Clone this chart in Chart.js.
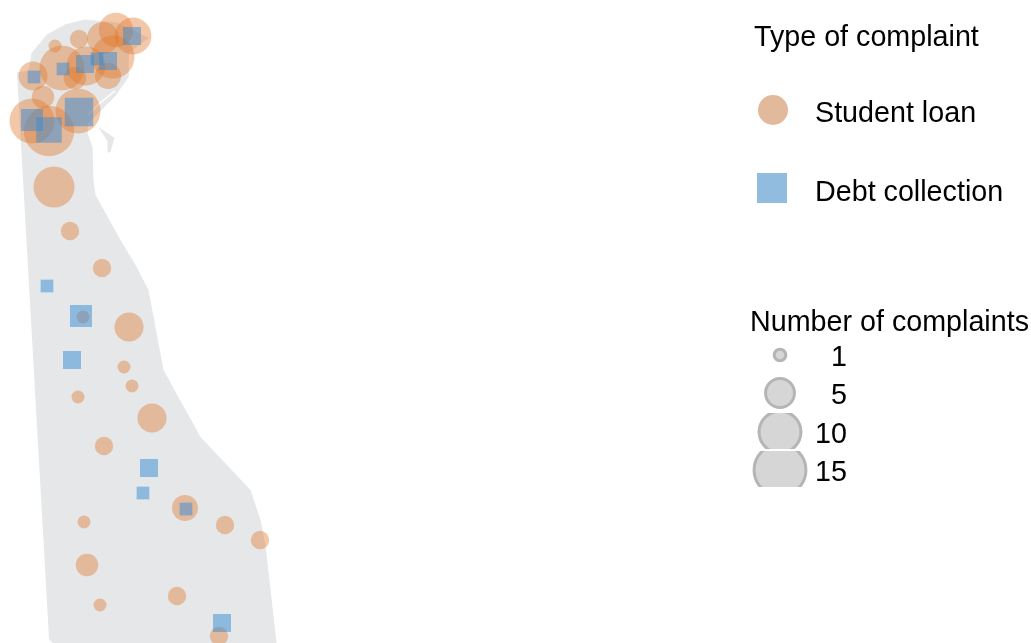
<!DOCTYPE html>
<html>
<head>
<meta charset="utf-8">
<script src="https://cdn.jsdelivr.net/npm/chart.js@4/dist/chart.umd.min.js"></script>
<style>
  html, body { margin: 0; padding: 0; background: #fff; }
  #wrap { width: 1031px; height: 643px; }
</style>
</head>
<body>
<div id="wrap"><canvas id="chart" width="1031" height="643"></canvas></div>
<script>
// map units: 1 unit = 10 px of the reference, y runs north from the bottom edge
const stateX = [1.7,2.9,3.2,4.7,6.5,8.5,11.7,14.8,12.8,12.8,11.5,8.7,8.7,9.2,9.3,9.5,12.0,13.5,14.8,16.3,20.0,25.0,26.0,26.5,27.6,5.3,4.9];
const stateY = [57.0,57.2,59.0,60.8,61.8,62.3,62.0,60.5,59.0,56.6,54.7,51.9,51.0,49.6,46.3,44.8,40.3,37.8,35.3,27.3,20.6,15.3,12.3,9.8,0,0,0.5];
const islandX = [9.9,11.4,11.0,10.8,10.8];
const islandY = [51.5,50.5,49.1,49.1,50.1];
const riverX = [11.5,10.0,8.8];
const riverY = [55.2,54.0,52.8];

const loanX = [11.6,13.3,10.3,7.9,5.5,6.2,3.3,8.6,11.3,10.8,7.5,4.3,3.2,4.9,7.8,5.4,7.0,10.2,12.9,12.4,13.2,7.8,8.3,15.2,10.4,18.5,22.5,26.0,8.4,8.7,17.7,10.0,21.9];
const loanY = [61.3,60.7,60.5,60.4,59.7,57.5,56.7,57.7,58.6,56.7,56.5,54.6,52.2,51.2,53.2,45.6,41.2,37.5,31.6,27.6,25.7,24.6,32.6,22.5,19.7,13.5,11.8,10.3,12.1,7.8,4.7,3.8,0.7];
const loanCount = [7,8,6,2,1,12,5,9,11,4,3,3,12,15,12,10,2,2,5,1,1,1,1,5,2,4,2,2,1,3,2,1,2];

const debtX = [13.2,6.3,8.5,9.7,10.8,3.4,7.9,3.2,4.9,4.7,8.1,7.2,14.9,14.3,18.6,22.2];
const debtY = [60.7,57.4,57.9,58.4,58.2,56.6,53.1,52.3,51.3,35.7,32.7,28.3,17.5,15.0,13.4,2.0];
const debtCount = [2,1,2,1,2,1,5,3,4,1,3,2,2,1,1,2];

const typeLabels = ["Student loan", "Debt collection"];
const sizeCounts = [1, 5, 10, 15];
const loanColor = "rgba(224,118,38,0.4)";
const debtColor = "rgba(55,140,213,0.5)";

const toPoints = (xs, ys, counts) =>
  xs.map((x, i) => ({ x: x, y: ys[i], n: counts ? counts[i] : 0 }));

// draws the two legends to the right of the map
const legendPlugin = {
  id: "mapLegend",
  afterDraw(chart) {
    const ctx = chart.ctx;
    ctx.save();
    ctx.fillStyle = "#000";
    ctx.textBaseline = "middle";
    ctx.font = "28.7px 'Liberation Sans', Arial, sans-serif";
    ctx.textAlign = "left";
    ctx.fillText("Type of complaint", 754, 38);
    ctx.fillText(typeLabels[0], 815, 114);
    ctx.fillText(typeLabels[1], 815, 193);
    ctx.fillText("Number of complaints", 750, 323);

    ctx.fillStyle = "#E2B99A";
    ctx.beginPath();
    ctx.arc(773, 110, 15, 0, Math.PI * 2);
    ctx.fill();
    ctx.fillStyle = "#91BBDF";
    ctx.fillRect(757, 173, 30, 30);

    const rowY = [355, 393, 432, 470];
    sizeCounts.forEach((n, i) => {
      ctx.save();
      ctx.beginPath();
      ctx.rect(740, rowY[i] - 19, 80, 36);
      ctx.clip();
      ctx.beginPath();
      ctx.arc(780, rowY[i], 7 * Math.sqrt(n) - 1.2, 0, Math.PI * 2);
      ctx.fillStyle = "#D6D6D6";
      ctx.strokeStyle = "#B5B5B5";
      ctx.lineWidth = 3;
      ctx.fill();
      ctx.stroke();
      ctx.restore();
      ctx.fillStyle = "#000";
      ctx.textAlign = "right";
      ctx.fillText(String(n), 847, rowY[i] + 3);
    });
    ctx.restore();
  }
};

new Chart(document.getElementById("chart"), {
  type: "scatter",
  data: {
    datasets: [
      {
        label: "Delaware",
        data: toPoints(stateX, stateY),
        showLine: true,
        fill: "shape",
        backgroundColor: "#E5E7E9",
        borderColor: "#E5E7E9",
        borderWidth: 1,
        tension: 0,
        pointRadius: 0,
        order: 5
      },
      {
        label: "Reedy Island",
        data: toPoints(islandX, islandY),
        showLine: true,
        fill: "shape",
        backgroundColor: "#E5E7E9",
        borderColor: "#E5E7E9",
        borderWidth: 1,
        tension: 0,
        pointRadius: 0,
        order: 4
      },
      {
        label: "River",
        data: toPoints(riverX, riverY),
        showLine: true,
        borderColor: "#FFFFFF",
        borderWidth: 1.5,
        tension: 0,
        pointRadius: 0,
        order: 3
      },
      {
        label: typeLabels[0],
        data: toPoints(loanX, loanY, loanCount),
        backgroundColor: loanColor,
        borderWidth: 0,
        pointRadius: (c) => 6.5 * Math.sqrt(c.raw.n),
        order: 2
      },
      {
        label: typeLabels[1],
        data: toPoints(debtX, debtY, debtCount),
        backgroundColor: debtColor,
        borderWidth: 0,
        pointStyle: "rect",
        pointRadius: (c) => 9 * Math.sqrt(c.raw.n),
        order: 1
      }
    ]
  },
  options: {
    responsive: false,
    animation: false,
    clip: false,
    layout: { padding: 0, autoPadding: false },
    scales: {
      x: { type: "linear", min: 0, max: 103.1, display: false },
      y: { type: "linear", min: 0, max: 64.3, display: false }
    },
    plugins: {
      legend: { display: false },
      tooltip: { enabled: false }
    }
  },
  plugins: [legendPlugin]
});
</script>
</body>
</html>
